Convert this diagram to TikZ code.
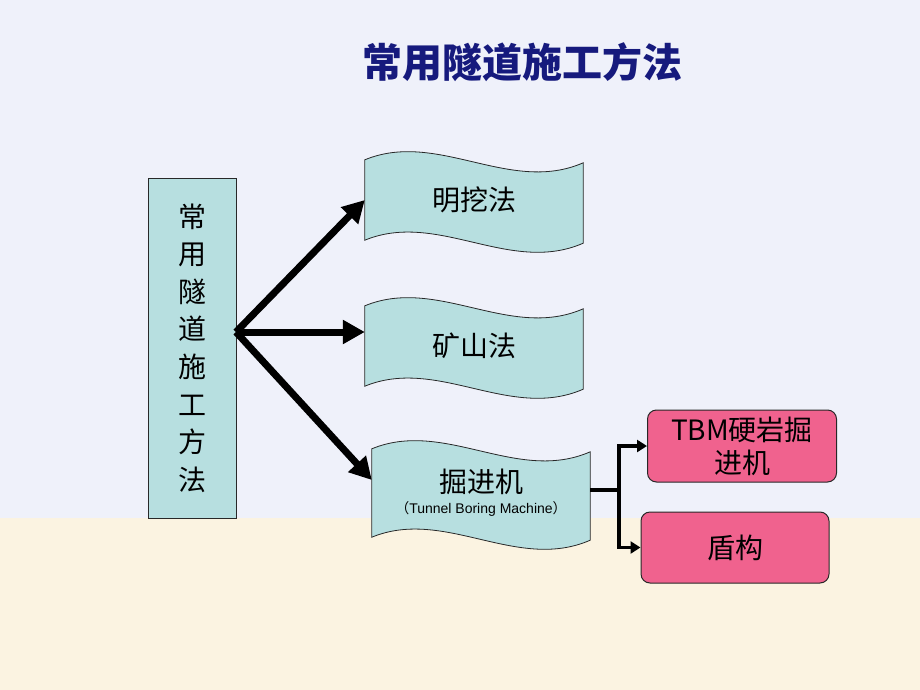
\documentclass[tikz,border=0pt]{standalone}
\usepackage{fontspec}
\setmainfont{Liberation Sans}
\newfontfamily\cjk{Noto Sans CJK SC}
\usetikzlibrary{arrows.meta,calc,backgrounds}
\definecolor{bgtop}{RGB}{239,241,250}
\definecolor{bgbot}{RGB}{251,243,225}
\definecolor{tealfill}{RGB}{183,223,224}
\definecolor{pinkfill}{RGB}{240,98,142}
\definecolor{titleblue}{RGB}{22,26,125}
\definecolor{edge}{RGB}{40,40,40}
\newcommand\wavepath[1]{%
  \path[wavefill] (#1.north west)
    .. controls ($(#1.north west)+(73,-30)$) and ($(#1.north west)+(145,35)$) .. ($(#1.north east)+(0,3)$)
    -- ($(#1.south east)+(0,3)$)
    .. controls ($(#1.south west)+(145,35)$) and ($(#1.south west)+(73,-30)$) .. (#1.south west)
    -- cycle;}
\begin{document}
\begin{tikzpicture}[x=1pt,y=-1pt,
  bannerbox/.style={minimum width=218pt,minimum height=80pt,inner sep=0pt,align=center,
    font=\cjk\fontsize{28}{32}\selectfont},
  wavefill/.style={fill=tealfill,draw=edge,line width=0.8pt},
  pinkbox/.style={draw=edge,fill=pinkfill,rounded corners=9pt,line width=1pt,inner sep=0pt,
    align=center,font=\cjk\fontsize{28}{33}\selectfont},
  bigarrow/.style={line width=7pt,-{Triangle[length=22pt,width=23pt]}},
  conn/.style={line width=3.5pt},
  twoarrow/.style={line width=3.5pt,{Triangle[length=10pt,width=12pt]}-{Triangle[length=10pt,width=12pt]}},
]
\useasboundingbox (0,0) rectangle (920,690);
% title
\node[font=\cjk\bfseries\fontsize{40}{42}\selectfont,text=titleblue] (title) at (522,62) {常用隧道施工方法};
% left box
\node[draw=edge,fill=tealfill,line width=0.8pt,minimum width=88pt,minimum height=340pt,inner sep=0pt,
  align=center,font=\cjk\fontsize{28}{37.6}\selectfont] (lb) at (192,348)
  {常\\用\\隧\\道\\施\\工\\方\\法};
% banners
\node[bannerbox] (b1) at (474,200) {明挖法};
\node[bannerbox] (b2) at (474,346) {矿山法};
\node[bannerbox,minimum height=88pt] (b3) at (481,493)
  {{\fontsize{28}{30}\selectfont 掘进机}\\[-11pt]{\fontsize{14}{15}\selectfont （\rmfamily Tunnel Boring Machine\cjk ）}};
\begin{scope}[on background layer]
  \fill[bgtop] (0,0) rectangle (920,518);
  \fill[bgbot] (0,518) rectangle (920,690);
  \wavepath{b1}
  \wavepath{b2}
  \wavepath{b3}
\end{scope}
% pink boxes
\node[pinkbox,minimum width=189pt,minimum height=72pt] (p1) at (742,446) {TBM硬岩掘\\进机};
\node[pinkbox,minimum width=188pt,minimum height=71pt] (p2) at (735,547.5) {盾构};
% arrows
\coordinate (hub) at (236,332);
\draw[bigarrow] (hub) -- (b1.west);
\draw[bigarrow] (hub) -- (b2.west |- hub);
\draw[bigarrow] (hub) -- ($(b3.west)+(0,-13)$);
\coordinate (split) at (619,490);
\draw[conn] ($(b3.east)+(0,-3)$) -- (split);
\draw[twoarrow] (p1.west) -- (split |- p1.west) -- (split |- p2.west) -- (p2.west);
\end{tikzpicture}
\end{document}
